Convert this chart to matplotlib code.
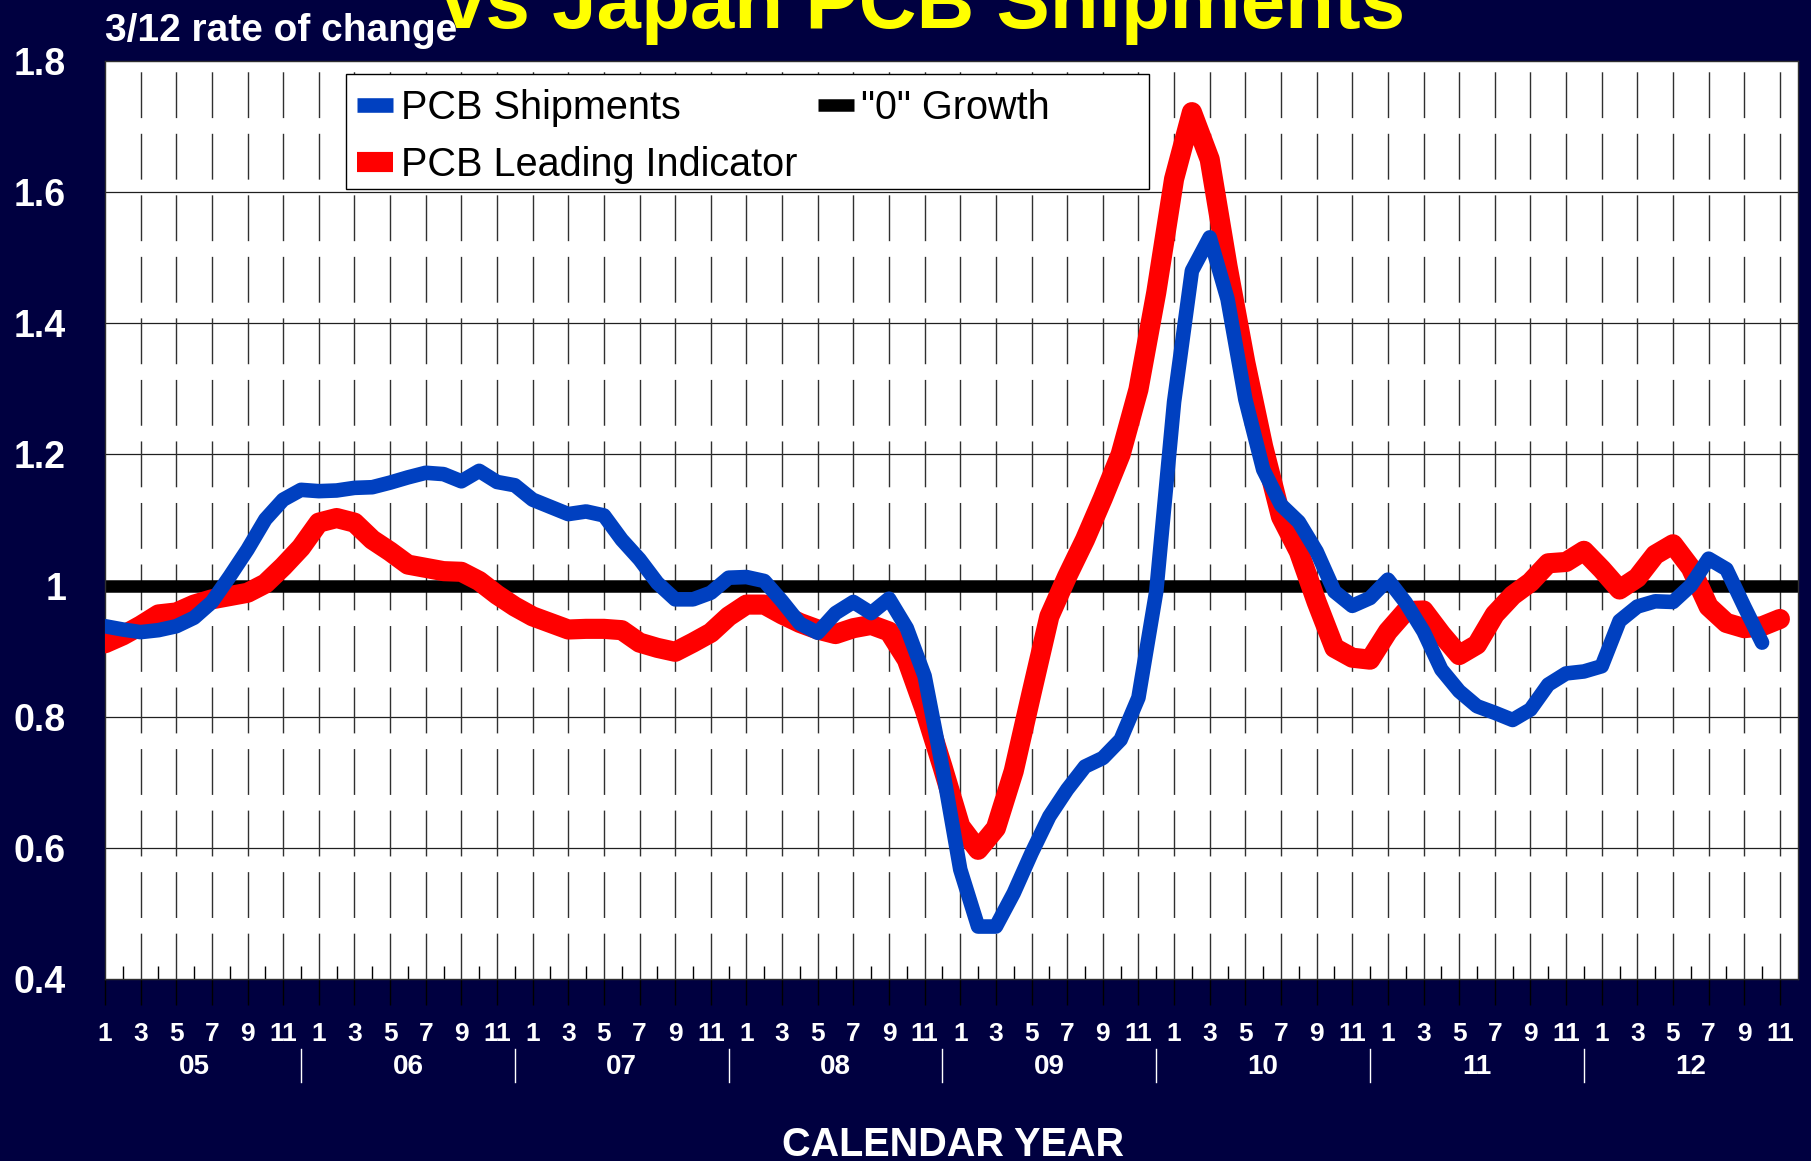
import numpy as np
import matplotlib
matplotlib.use('Agg')
import matplotlib.pyplot as plt
import matplotlib.transforms as mtransforms
from matplotlib.lines import Line2D
from matplotlib.patches import Rectangle

plt.rcParams['font.family'] = ['Liberation Sans', 'DejaVu Sans']
plt.rcParams['font.weight'] = 'bold'

# monthly values, index 0 = Jan 2005
shipments = [0.938, 0.933, 0.929, 0.932, 0.938, 0.951, 0.975, 1.014, 1.055, 1.101, 1.131, 1.146,
             1.144, 1.145, 1.149, 1.150, 1.157, 1.165, 1.172, 1.170, 1.159, 1.175, 1.158, 1.153,
             1.131, 1.120, 1.109, 1.113, 1.107, 1.070, 1.040, 1.004, 0.979, 0.979, 0.989, 1.012,
             1.013, 1.007, 0.976, 0.942, 0.928, 0.958, 0.975, 0.958, 0.980, 0.935, 0.862, 0.722,
             0.567, 0.480, 0.480, 0.531, 0.592, 0.648, 0.689, 0.724, 0.737, 0.765, 0.829, 0.991,
             1.280, 1.480, 1.531, 1.437, 1.284, 1.177, 1.123, 1.097, 1.052, 0.991, 0.969, 0.981,
             1.009, 0.974, 0.930, 0.872, 0.839, 0.816, 0.806, 0.795, 0.811, 0.849, 0.866, 0.869,
             0.877, 0.946, 0.968, 0.976, 0.975, 1.000, 1.041, 1.025, 0.968, 0.913]
leading = [0.912, 0.924, 0.939, 0.956, 0.959, 0.971, 0.979, 0.984, 0.989, 1.003, 1.029, 1.058,
           1.096, 1.103, 1.096, 1.070, 1.052, 1.032, 1.027, 1.022, 1.021, 1.007, 0.986, 0.968,
           0.953, 0.943, 0.933, 0.934, 0.934, 0.932, 0.913, 0.905, 0.899, 0.913, 0.928, 0.953,
           0.971, 0.971, 0.956, 0.943, 0.933, 0.926, 0.935, 0.940, 0.930, 0.887, 0.811, 0.724,
           0.633, 0.597, 0.630, 0.717, 0.836, 0.953, 1.014, 1.070, 1.133, 1.200, 1.299, 1.447,
           1.620, 1.722, 1.650, 1.487, 1.340, 1.212, 1.105, 1.052, 0.975, 0.905, 0.890, 0.887,
           0.930, 0.961, 0.962, 0.926, 0.894, 0.910, 0.956, 0.985, 1.005, 1.034, 1.036, 1.053,
           1.025, 0.994, 1.012, 1.047, 1.063, 1.027, 0.968, 0.943, 0.935, 0.938, 0.949]
zero_growth = 1.0

years = ['05', '06', '07', '08', '09', '10', '11', '12']
month_labels = ['1', '3', '5', '7', '9', '11']
y_ticks = [0.4, 0.6, 0.8, 1.0, 1.2, 1.4, 1.6, 1.8]
y_tick_labels = ['0.4', '0.6', '0.8', '1', '1.2', '1.4', '1.6', '1.8']

navy = '#000040'
blue = '#0040c0'
red = '#ff0000'
W, H = 1811, 1161
LW_BLUE, LW_RED, LW_ZERO = 10.5, 14.5, 9.0

fig = plt.figure(figsize=(W / 100, H / 100), dpi=100, facecolor=navy)
ax = fig.add_axes([105 / W, 1 - 979 / H, (1797.7 - 105) / W, (979 - 61) / H])
ax.set_facecolor('white')
n_months = len(years) * 12 - 1
ax.set_xlim(0, n_months)
ax.set_ylim(y_ticks[0], y_ticks[-1])

# grid: solid horizontals, dashed verticals every 2 months
for y in y_ticks[1:-1]:
    ax.axhline(y, color='#202020', lw=0.9, zorder=1)
for x in range(2, n_months, 2):
    ax.plot([x, x], [y_ticks[0], y_ticks[-1]], color='#303030', lw=1.0,
            dashes=(33, 11.3), zorder=1)

ax.axhline(zero_growth, color='black', lw=LW_ZERO, zorder=2, solid_capstyle='butt')
ax.plot(np.arange(len(leading)), leading, color=red, lw=LW_RED, zorder=3,
        solid_joinstyle='round', solid_capstyle='round')
ax.plot(np.arange(len(shipments)), shipments, color=blue, lw=LW_BLUE, zorder=4,
        solid_joinstyle='round', solid_capstyle='round')

for s in ax.spines.values():
    s.set_color('#303030')
    s.set_linewidth(1)

# x axis: month numbers, year names, separators
major = list(range(0, n_months, 2))
ax.set_xticks(major)
ax.set_xticklabels([month_labels[(i % 12) // 2] for i in major])
ax.set_xticks(range(1, n_months, 2), minor=True)
ax.tick_params(axis='x', which='major', direction='out', length=18.7, width=1,
               color='black', pad=12, labelsize=19, labelcolor='white')
ax.tick_params(axis='x', which='minor', direction='in', length=9.6, width=1, color='black')

ax.set_yticks(y_ticks)
ax.set_yticklabels(y_tick_labels)
ax.tick_params(axis='y', length=0, pad=28, labelsize=27, labelcolor='white')

trans = mtransforms.blended_transform_factory(ax.transData, ax.transAxes)
for k, yr in enumerate(years):
    ax.text(12 * k + 5, -0.0959, yr, transform=trans, ha='center', va='center',
            color='white', fontsize=20, fontweight='bold')
for k in range(len(years) - 1):
    ax.plot([12 * k + 11] * 2, [-0.0763, -0.1122], transform=trans, color='white',
            lw=1.0, clip_on=False)

# titles
fig.text(923 / W, 1 - 28 / H, 'vs Japan PCB Shipments', color='#ffff00', fontsize=57.5,
         fontweight='bold', ha='center', va='baseline')
fig.text(105 / W, 1 - 41 / H, '3/12 rate of change', color='white', fontsize=28,
         fontweight='bold', ha='left', va='baseline')
fig.text(953 / W, 1 - 1145 / H, 'CALENDAR YEAR', color='white', fontsize=28.5,
         fontweight='bold', ha='center', va='center')

# legend with separate frame
frame = Rectangle((346 / W, 1 - 189 / H), (1149 - 346) / W, 115 / H, transform=fig.transFigure,
                  facecolor='white', edgecolor='black', lw=1, zorder=5)
fig.add_artist(frame)
handles = [Line2D([], [], color=blue, lw=LW_BLUE, solid_capstyle='butt'),
           Line2D([], [], color=red, lw=LW_RED, solid_capstyle='butt'),
           Line2D([], [], color='black', lw=LW_ZERO, solid_capstyle='butt')]
labels = ['PCB Shipments', 'PCB Leading Indicator', '"0" Growth']
leg = fig.legend(handles, labels, ncol=2, loc='upper left', bbox_to_anchor=(357 / W, 1 - 89 / H),
                 bbox_transform=fig.transFigure, frameon=False, borderpad=0, borderaxespad=0,
                 prop={'size': 28.5, 'weight': 'normal'}, handlelength=0.92,
                 handletextpad=0.18, columnspacing=0.52, labelspacing=0.48)
leg.set_zorder(10)

fig.savefig('out.png', dpi=100, facecolor=navy)
